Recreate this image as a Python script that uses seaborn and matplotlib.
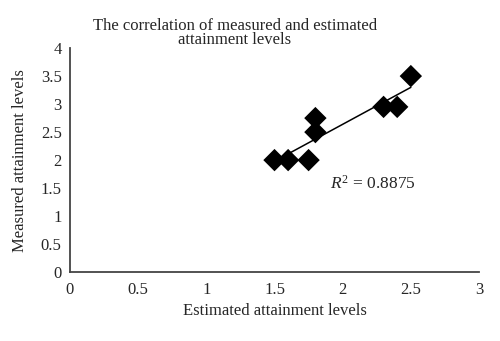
import matplotlib
matplotlib.use("Agg")
import matplotlib.pyplot as plt
import seaborn as sns
import pandas as pd

estimated = [1.5, 1.6, 1.75, 1.8, 1.8, 2.3, 2.4, 2.5]
measured = [2.0, 2.0, 2.0, 2.5, 2.75, 2.95, 2.95, 3.5]
x_ticks = [0, 0.5, 1, 1.5, 2, 2.5, 3]
x_tick_labels = ["0", "0.5", "1", "1.5", "2", "2.5", "3"]
y_ticks = [0, 0.5, 1, 1.5, 2, 2.5, 3, 3.5, 4]
y_tick_labels = ["0", "0.5", "1", "1.5", "2", "2.5", "3", "3.5", "4"]
r2_label = r"$R^2$ = 0.8875"

df = pd.DataFrame({"Estimated": estimated, "Measured": measured})

sns.set_style("white")
plt.rcParams['font.family'] = ['Liberation Serif', 'DejaVu Serif']
plt.rcParams['mathtext.fontset'] = 'custom'
plt.rcParams['mathtext.rm'] = 'Liberation Serif'
plt.rcParams['mathtext.it'] = 'Liberation Serif:italic'

fig = plt.figure(figsize=(5, 3.41), dpi=100)
ax = fig.add_axes([0.14, 0.202, 0.818, 0.657])

sns.regplot(data=df, x="Estimated", y="Measured", ax=ax, ci=None,
            marker="D", scatter_kws=dict(s=130, color="black", alpha=1,
                                         edgecolors="none", zorder=3),
            line_kws=dict(color="black", lw=1.1, zorder=2))

ax.set_xlim(0, 3)
ax.set_ylim(0, 4)
ax.set_xticks(x_ticks)
ax.set_xticklabels(x_tick_labels, fontsize=12)
ax.set_yticks(y_ticks)
ax.set_yticklabels(y_tick_labels, fontsize=12)
ax.tick_params(axis="x", length=0, pad=7)
ax.tick_params(axis="y", length=0, pad=6)
sns.despine(ax=ax)
for s in ["left", "bottom"]:
    ax.spines[s].set_color("#444444")
    ax.spines[s].set_linewidth(1.3)

ax.set_xlabel("Estimated attainment levels", fontsize=12, labelpad=4)
ax.set_ylabel("Measured attainment levels", fontsize=12, labelpad=9)

ax.text(1.91, 1.57, r2_label, fontsize=12.5, va="center", ha="left")

fig.text(0.47, 0.903, "The correlation of measured and estimated\nattainment levels",
         ha="center", va="center", fontsize=12, linespacing=0.85)

fig.savefig("out.png", dpi=100)
